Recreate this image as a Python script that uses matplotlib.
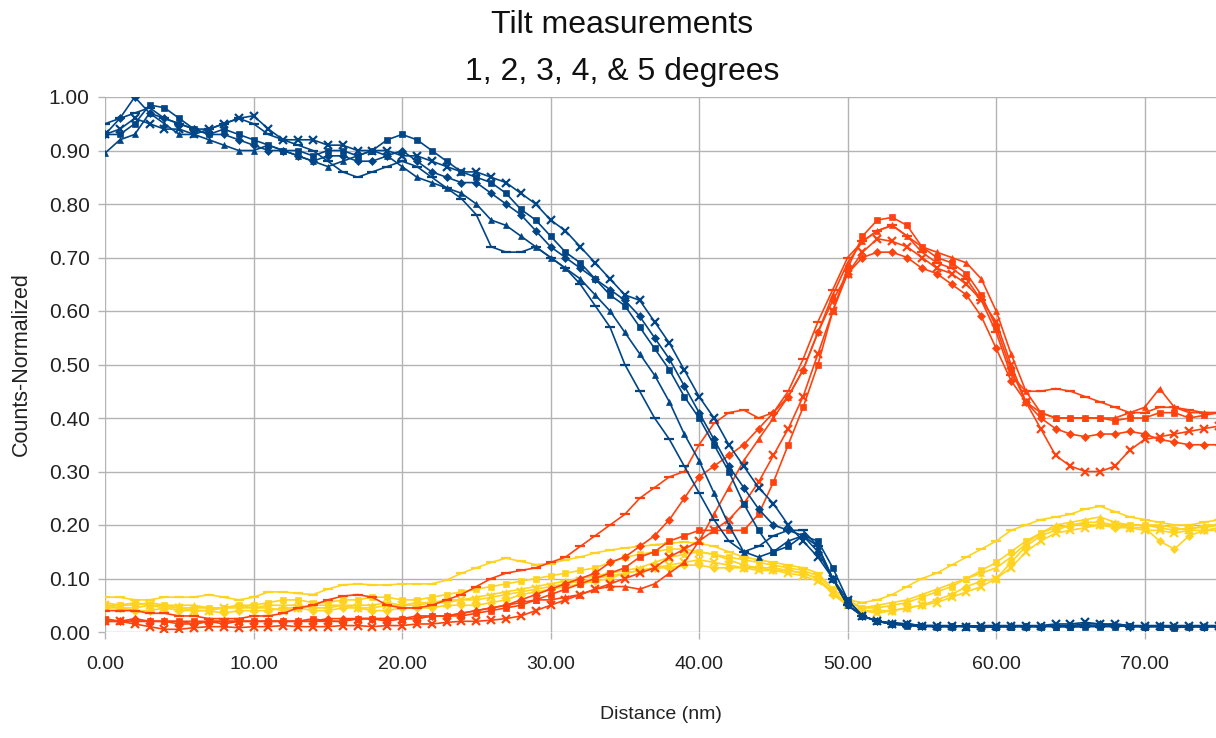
import matplotlib
matplotlib.use("Agg")
import matplotlib.pyplot as plt

distance = list(range(0, 76))

# ---- Blue series ----
blue_diamond = [0.93, 0.96, 1.00, 0.97, 0.96, 0.95, 0.94, 0.93, 0.93, 0.92,
                0.91, 0.90, 0.90, 0.89, 0.88, 0.89, 0.89, 0.88, 0.88, 0.89,
                0.90, 0.88, 0.86, 0.85, 0.84, 0.84, 0.82, 0.80, 0.78, 0.75,
                0.72, 0.70, 0.68, 0.66, 0.64, 0.62, 0.59, 0.55, 0.51, 0.46,
                0.41, 0.36, 0.31, 0.27, 0.23, 0.20, 0.19, 0.18, 0.15, 0.10,
                0.05, 0.03, 0.02, 0.015, 0.015, 0.012, 0.010, 0.010, 0.012, 0.010,
                0.010, 0.012, 0.010, 0.010, 0.012, 0.012, 0.015, 0.015, 0.012, 0.010,
                0.010, 0.012, 0.010, 0.010, 0.010, 0.012]
blue_square = [0.93, 0.93, 0.95, 0.985, 0.98, 0.96, 0.94, 0.93, 0.94, 0.93,
               0.92, 0.91, 0.90, 0.90, 0.89, 0.90, 0.90, 0.89, 0.90, 0.92,
               0.93, 0.92, 0.90, 0.88, 0.86, 0.85, 0.84, 0.82, 0.79, 0.77,
               0.74, 0.71, 0.69, 0.66, 0.63, 0.61, 0.57, 0.53, 0.49, 0.44,
               0.40, 0.35, 0.30, 0.24, 0.19, 0.15, 0.16, 0.18, 0.17, 0.12,
               0.06, 0.03, 0.02, 0.015, 0.012, 0.012, 0.010, 0.012, 0.010, 0.008,
               0.010, 0.010, 0.012, 0.010, 0.010, 0.010, 0.012, 0.010, 0.010, 0.012,
               0.010, 0.010, 0.008, 0.010, 0.010, 0.010]
blue_triangle = [0.895, 0.92, 0.93, 0.97, 0.95, 0.93, 0.93, 0.92, 0.91, 0.90,
                 0.90, 0.91, 0.90, 0.89, 0.88, 0.87, 0.88, 0.89, 0.90, 0.89,
                 0.87, 0.85, 0.84, 0.83, 0.82, 0.80, 0.77, 0.76, 0.74, 0.72,
                 0.70, 0.68, 0.66, 0.63, 0.60, 0.56, 0.52, 0.48, 0.43, 0.37,
                 0.32, 0.26, 0.20, 0.15, 0.14, 0.15, 0.17, 0.18, 0.16, 0.10,
                 0.05, 0.03, 0.02, 0.018, 0.015, 0.012, 0.012, 0.010, 0.010, 0.012,
                 0.010, 0.010, 0.010, 0.012, 0.010, 0.010, 0.010, 0.012, 0.015, 0.012,
                 0.010, 0.010, 0.010, 0.012, 0.010, 0.010]
blue_x = [0.93, 0.94, 0.96, 0.95, 0.94, 0.94, 0.93, 0.94, 0.95, 0.96,
          0.965, 0.94, 0.92, 0.92, 0.92, 0.91, 0.91, 0.90, 0.90, 0.90,
          0.89, 0.89, 0.88, 0.87, 0.86, 0.86, 0.85, 0.84, 0.82, 0.80,
          0.77, 0.75, 0.72, 0.69, 0.66, 0.63, 0.62, 0.58, 0.54, 0.49,
          0.44, 0.40, 0.35, 0.31, 0.27, 0.24, 0.20, 0.17, 0.14, 0.10,
          0.06, 0.03, 0.02, 0.015, 0.015, 0.012, 0.012, 0.012, 0.010, 0.012,
          0.012, 0.012, 0.012, 0.012, 0.015, 0.015, 0.018, 0.015, 0.015, 0.012,
          0.012, 0.012, 0.012, 0.012, 0.012, 0.012]
blue_dash = [0.95, 0.96, 0.97, 0.98, 0.96, 0.95, 0.94, 0.94, 0.95, 0.96,
             0.95, 0.93, 0.92, 0.91, 0.90, 0.88, 0.86, 0.85, 0.86, 0.87,
             0.88, 0.87, 0.85, 0.83, 0.81, 0.78, 0.72, 0.71, 0.71, 0.72,
             0.70, 0.68, 0.65, 0.61, 0.57, 0.50, 0.45, 0.40, 0.36, 0.31,
             0.26, 0.21, 0.17, 0.15, 0.16, 0.18, 0.19, 0.19, 0.16, 0.10,
             0.05, 0.03, 0.02, 0.015, 0.012, 0.010, 0.010, 0.010, 0.012, 0.010,
             0.010, 0.010, 0.010, 0.010, 0.012, 0.010, 0.010, 0.010, 0.012, 0.010,
             0.010, 0.012, 0.010, 0.010, 0.010, 0.010]

# ---- Red series ----
red_diamond = [0.02, 0.02, 0.025, 0.02, 0.02, 0.015, 0.015, 0.02, 0.02, 0.02,
               0.02, 0.02, 0.02, 0.02, 0.02, 0.025, 0.025, 0.025, 0.025, 0.025,
               0.025, 0.03, 0.03, 0.03, 0.035, 0.04, 0.045, 0.05, 0.06, 0.07,
               0.08, 0.09, 0.10, 0.11, 0.13, 0.14, 0.16, 0.18, 0.21, 0.25,
               0.29, 0.31, 0.33, 0.35, 0.38, 0.41, 0.44, 0.49, 0.56, 0.62,
               0.67, 0.70, 0.71, 0.71, 0.70, 0.68, 0.67, 0.65, 0.63, 0.59,
               0.53, 0.47, 0.43, 0.40, 0.38, 0.37, 0.365, 0.37, 0.37, 0.375,
               0.37, 0.36, 0.355, 0.35, 0.35, 0.35]
red_square = [0.025, 0.02, 0.02, 0.02, 0.02, 0.02, 0.02, 0.02, 0.015, 0.02,
              0.02, 0.02, 0.02, 0.02, 0.025, 0.02, 0.02, 0.025, 0.025, 0.02,
              0.025, 0.025, 0.03, 0.03, 0.03, 0.035, 0.04, 0.045, 0.05, 0.06,
              0.07, 0.08, 0.09, 0.10, 0.11, 0.12, 0.14, 0.15, 0.17, 0.18,
              0.19, 0.19, 0.19, 0.19, 0.22, 0.28, 0.35, 0.42, 0.50, 0.60,
              0.68, 0.74, 0.77, 0.775, 0.76, 0.72, 0.70, 0.69, 0.67, 0.63,
              0.57, 0.49, 0.43, 0.41, 0.40, 0.40, 0.40, 0.40, 0.395, 0.40,
              0.40, 0.41, 0.41, 0.40, 0.405, 0.41]
red_triangle = [0.02, 0.02, 0.02, 0.02, 0.02, 0.02, 0.015, 0.02, 0.02, 0.02,
                0.02, 0.02, 0.02, 0.02, 0.02, 0.02, 0.02, 0.025, 0.025, 0.025,
                0.025, 0.025, 0.03, 0.03, 0.035, 0.04, 0.045, 0.05, 0.055, 0.06,
                0.06, 0.065, 0.07, 0.08, 0.085, 0.085, 0.08, 0.09, 0.11, 0.13,
                0.17, 0.22, 0.27, 0.32, 0.36, 0.40, 0.44, 0.49, 0.56, 0.63,
                0.69, 0.73, 0.75, 0.76, 0.74, 0.72, 0.71, 0.70, 0.69, 0.66,
                0.60, 0.52, 0.45, 0.41, 0.40, 0.40, 0.40, 0.40, 0.40, 0.41,
                0.42, 0.455, 0.42, 0.41, 0.41, 0.41]
red_x = [0.02, 0.02, 0.015, 0.01, 0.005, 0.005, 0.008, 0.01, 0.01, 0.008,
         0.01, 0.01, 0.012, 0.01, 0.01, 0.01, 0.012, 0.012, 0.01, 0.012,
         0.012, 0.015, 0.015, 0.018, 0.02, 0.02, 0.022, 0.025, 0.03, 0.04,
         0.05, 0.06, 0.07, 0.08, 0.09, 0.10, 0.11, 0.12, 0.14, 0.155,
         0.17, 0.19, 0.21, 0.24, 0.28, 0.33, 0.38, 0.44, 0.52, 0.60,
         0.67, 0.71, 0.735, 0.73, 0.72, 0.70, 0.68, 0.67, 0.65, 0.62,
         0.58, 0.50, 0.43, 0.38, 0.33, 0.31, 0.30, 0.30, 0.31, 0.34,
         0.36, 0.365, 0.37, 0.375, 0.38, 0.385]
red_dash = [0.04, 0.04, 0.04, 0.035, 0.035, 0.03, 0.03, 0.025, 0.025, 0.025,
            0.03, 0.03, 0.035, 0.045, 0.05, 0.06, 0.067, 0.07, 0.065, 0.05,
            0.045, 0.045, 0.05, 0.06, 0.07, 0.085, 0.10, 0.11, 0.115, 0.12,
            0.13, 0.14, 0.16, 0.18, 0.20, 0.22, 0.25, 0.27, 0.29, 0.30,
            0.35, 0.39, 0.41, 0.415, 0.40, 0.41, 0.45, 0.51, 0.58, 0.64,
            0.70, 0.73, 0.75, 0.76, 0.74, 0.71, 0.69, 0.68, 0.66, 0.62,
            0.56, 0.48, 0.45, 0.45, 0.455, 0.45, 0.44, 0.43, 0.42, 0.41,
            0.41, 0.42, 0.42, 0.415, 0.41, 0.41]

# ---- Yellow series ----
yellow_diamond = [0.045, 0.045, 0.04, 0.04, 0.045, 0.04, 0.04, 0.04, 0.035, 0.04,
                  0.04, 0.04, 0.045, 0.045, 0.04, 0.04, 0.045, 0.045, 0.04, 0.04,
                  0.045, 0.045, 0.045, 0.05, 0.05, 0.05, 0.055, 0.06, 0.07, 0.075,
                  0.08, 0.085, 0.09, 0.095, 0.10, 0.11, 0.115, 0.12, 0.12, 0.125,
                  0.125, 0.12, 0.12, 0.12, 0.12, 0.115, 0.115, 0.11, 0.10, 0.07,
                  0.05, 0.04, 0.04, 0.04, 0.045, 0.05, 0.06, 0.07, 0.085, 0.095,
                  0.10, 0.13, 0.16, 0.18, 0.19, 0.20, 0.20, 0.20, 0.195, 0.195,
                  0.195, 0.17, 0.155, 0.18, 0.19, 0.19]
yellow_square = [0.05, 0.05, 0.055, 0.05, 0.05, 0.045, 0.045, 0.045, 0.045, 0.05,
                 0.05, 0.055, 0.06, 0.06, 0.055, 0.055, 0.06, 0.06, 0.065, 0.065,
                 0.06, 0.06, 0.065, 0.07, 0.075, 0.08, 0.085, 0.09, 0.095, 0.10,
                 0.105, 0.11, 0.115, 0.12, 0.13, 0.14, 0.145, 0.15, 0.155, 0.155,
                 0.15, 0.145, 0.14, 0.135, 0.13, 0.125, 0.12, 0.115, 0.105, 0.08,
                 0.06, 0.045, 0.045, 0.05, 0.055, 0.065, 0.075, 0.085, 0.10, 0.115,
                 0.13, 0.15, 0.17, 0.185, 0.195, 0.20, 0.205, 0.205, 0.20, 0.20,
                 0.20, 0.195, 0.19, 0.195, 0.195, 0.20]
yellow_triangle = [0.055, 0.05, 0.05, 0.055, 0.05, 0.05, 0.05, 0.045, 0.045, 0.05,
                   0.045, 0.05, 0.05, 0.05, 0.045, 0.045, 0.05, 0.05, 0.05, 0.055,
                   0.05, 0.05, 0.055, 0.06, 0.06, 0.065, 0.07, 0.075, 0.08, 0.085,
                   0.09, 0.095, 0.10, 0.105, 0.11, 0.115, 0.12, 0.13, 0.14, 0.145,
                   0.15, 0.145, 0.135, 0.125, 0.12, 0.12, 0.115, 0.11, 0.10, 0.075,
                   0.055, 0.045, 0.05, 0.055, 0.06, 0.07, 0.08, 0.09, 0.10, 0.11,
                   0.12, 0.14, 0.165, 0.185, 0.20, 0.205, 0.21, 0.215, 0.205, 0.20,
                   0.20, 0.20, 0.195, 0.19, 0.20, 0.20]
yellow_x = [0.05, 0.045, 0.045, 0.05, 0.045, 0.045, 0.04, 0.04, 0.045, 0.045,
            0.045, 0.045, 0.04, 0.045, 0.05, 0.05, 0.05, 0.045, 0.045, 0.05,
            0.05, 0.055, 0.055, 0.055, 0.06, 0.06, 0.065, 0.07, 0.075, 0.08,
            0.085, 0.09, 0.095, 0.10, 0.105, 0.11, 0.115, 0.12, 0.125, 0.13,
            0.135, 0.13, 0.125, 0.12, 0.115, 0.115, 0.11, 0.105, 0.095, 0.075,
            0.05, 0.04, 0.035, 0.04, 0.045, 0.05, 0.055, 0.065, 0.075, 0.085,
            0.10, 0.12, 0.15, 0.17, 0.185, 0.19, 0.195, 0.20, 0.20, 0.195,
            0.19, 0.19, 0.185, 0.19, 0.19, 0.195]
yellow_dash = [0.065, 0.065, 0.06, 0.06, 0.065, 0.065, 0.065, 0.07, 0.065, 0.06,
               0.065, 0.075, 0.075, 0.072, 0.07, 0.08, 0.088, 0.09, 0.088, 0.088,
               0.09, 0.09, 0.09, 0.097, 0.11, 0.12, 0.13, 0.138, 0.132, 0.126,
               0.128, 0.135, 0.14, 0.148, 0.153, 0.157, 0.16, 0.163, 0.166, 0.168,
               0.166, 0.16, 0.15, 0.14, 0.135, 0.13, 0.125, 0.12, 0.11, 0.08,
               0.06, 0.055, 0.06, 0.07, 0.085, 0.10, 0.11, 0.125, 0.14, 0.155,
               0.17, 0.19, 0.20, 0.21, 0.215, 0.22, 0.23, 0.235, 0.225, 0.215,
               0.21, 0.205, 0.20, 0.20, 0.205, 0.21]

title_lines = ["Tilt measurements", "1, 2, 3, 4, & 5 degrees"]
x_label = "Distance (nm)"
y_label = "Counts-Normalized"

BLUE = "#004586"
RED = "#ff420e"
YELLOW = "#ffd320"

plt.rcParams['font.family'] = ['Liberation Sans', 'DejaVu Sans']

fig = plt.figure(figsize=(12.16, 7.38), dpi=100)
ax = fig.add_axes([105 / 1216, 1 - 632 / 738, 1 - 105 / 1216, (632 - 97) / 738])

markers = [("D", 4.5), ("s", 4.5), ("^", 5.0), ("x", 5.5), ("_", 7.0)]

groups = [
    (YELLOW, [yellow_diamond, yellow_square, yellow_triangle, yellow_x, yellow_dash]),
    (RED, [red_diamond, red_square, red_triangle, red_x, red_dash]),
    (BLUE, [blue_diamond, blue_square, blue_triangle, blue_x, blue_dash]),
]
for color, series in groups:
    for (mk, ms), vals in zip(markers, series):
        ax.plot(distance, vals, color=color, lw=1.2, marker=mk, ms=ms,
                mew=1.6 if mk in ("x", "_") else 0.5, mec=color, mfc=color,
                clip_on=True, zorder=3)

ax.set_xlim(0, 74.8)
ax.set_ylim(0, 1.0)
ax.set_xticks([0, 10, 20, 30, 40, 50, 60, 70])
ax.set_xticklabels([f"{v:.2f}" for v in [0, 10, 20, 30, 40, 50, 60, 70]])
ax.set_yticks([i / 10 for i in range(11)])
ax.set_yticklabels([f"{i / 10:.2f}" for i in range(11)])
ax.grid(True, color="#b3b3b3", lw=1.0, zorder=0)
ax.set_axisbelow(True)
for s in ax.spines.values():
    s.set_visible(False)
ax.tick_params(axis="both", colors="#b3b3b3", labelcolor="#222222",
               labelsize=15, length=5, width=1.0)
ax.tick_params(axis="x", pad=12, labelsize=14)
ax.tick_params(axis="y", pad=6)

ax.set_xlabel(x_label, fontsize=14, color="#222222", labelpad=24)
ax.set_ylabel(y_label, fontsize=15.5, color="#222222", labelpad=12)

title_x = 622 / 1216
fig.text(title_x, 1 - 25 / 738, title_lines[0], ha="center", va="center",
         fontsize=23, color="#111111")
fig.text(title_x, 1 - 72 / 738, title_lines[1], ha="center", va="center",
         fontsize=23, color="#111111")

fig.savefig("out.png", dpi=100)
